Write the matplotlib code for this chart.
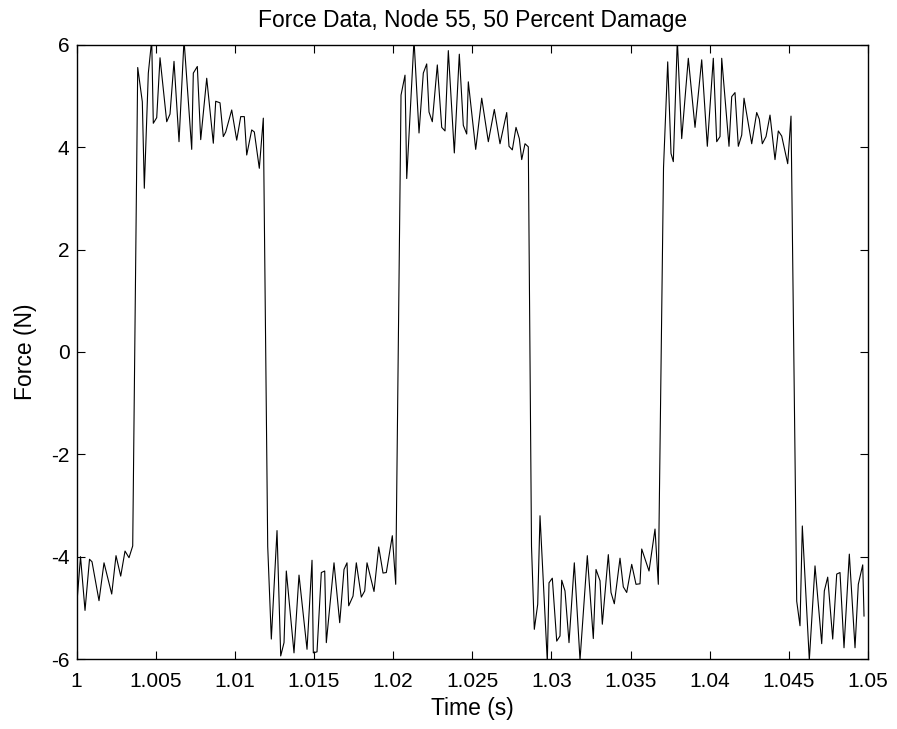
import matplotlib
matplotlib.use("Agg")
import matplotlib.pyplot as plt

plt.rcParams["font.family"] = ["Liberation Sans", "DejaVu Sans"]

# Sampled force signal: time (s) and force (N)
time_s = [
    1.000000, 1.000253, 1.000537, 1.000821, 1.000979, 1.001421, 1.001737,
    1.002224, 1.002495, 1.002792, 1.003064, 1.003316, 1.003550,
    1.003866, 1.004157, 1.004283, 1.004536, 1.004750, 1.004851, 1.005066,
    1.005275, 1.005698, 1.005906, 1.006159, 1.006475, 1.006791, 1.007277,
    1.007378, 1.007631, 1.007846, 1.008225, 1.008642, 1.008793, 1.009065,
    1.009273, 1.009425, 1.009804, 1.010120, 1.010373, 1.010600, 1.010752,
    1.011067, 1.011232, 1.011547, 1.011800, 1.012078,
    1.012306, 1.012666, 1.012899, 1.013108, 1.013253, 1.013739, 1.014055,
    1.014561, 1.014877, 1.014959, 1.015192, 1.015464, 1.015679, 1.015780,
    1.016266, 1.016626, 1.016898, 1.017087, 1.017195, 1.017467, 1.017675,
    1.017991, 1.018205, 1.018351, 1.018793, 1.019090, 1.019362, 1.019570,
    1.019949, 1.020164,
    1.020499, 1.020751, 1.020859, 1.021320, 1.021636, 1.021907, 1.022122,
    1.022267, 1.022476, 1.022792, 1.023070, 1.023278, 1.023487, 1.023866,
    1.024181, 1.024434, 1.024649, 1.024750, 1.025217, 1.025597, 1.026014,
    1.026392, 1.026752, 1.027176, 1.027321, 1.027530, 1.027763, 1.027972,
    1.028123, 1.028332, 1.028540, 1.028742,
    1.028919, 1.029134, 1.029279, 1.029740, 1.029848, 1.030056, 1.030334,
    1.030542, 1.030650, 1.030858, 1.031111, 1.031446, 1.031806, 1.032267,
    1.032646, 1.032817, 1.033070, 1.033215, 1.033594, 1.033764, 1.033973,
    1.034333, 1.034541, 1.034756, 1.035072, 1.035343, 1.035596, 1.035704,
    1.036165, 1.036544, 1.036752, 1.037081,
    1.037346, 1.037555, 1.037700, 1.037953, 1.038230, 1.038647, 1.039071,
    1.039494, 1.039848, 1.040226, 1.040441, 1.040650, 1.040757, 1.041218,
    1.041389, 1.041597, 1.041806, 1.042021, 1.042166, 1.042652, 1.042968,
    1.043132, 1.043322, 1.043556, 1.043808, 1.044124, 1.044333, 1.044547,
    1.044926, 1.045135,
    1.045495, 1.045703, 1.045849, 1.046291, 1.046651, 1.047074, 1.047239,
    1.047453, 1.047769, 1.048022, 1.048230, 1.048483, 1.048818, 1.049178,
    1.049386, 1.049665, 1.049747,
]

force_n = [
    -5.00, -4.00, -5.05, -4.05, -4.10, -4.86, -4.12,
    -4.73, -3.98, -4.38, -3.89, -4.02, -3.79,
    5.56, 4.89, 3.20, 5.45, 6.10, 4.47, 4.58,
    5.75, 4.50, 4.65, 5.68, 4.11, 6.10, 3.96,
    5.45, 5.58, 4.15, 5.35, 4.08, 4.90, 4.87,
    4.21, 4.30, 4.73, 4.14, 4.60, 4.60, 3.85,
    4.34, 4.30, 3.59, 4.57, -3.80,
    -5.61, -3.49, -5.94, -5.68, -4.28, -5.88, -4.36,
    -5.81, -4.07, -5.88, -5.86, -4.31, -4.28, -5.68,
    -4.12, -5.29, -4.25, -4.12, -4.96, -4.77, -4.12,
    -4.79, -4.67, -4.12, -4.68, -3.81, -4.32, -4.31,
    -3.59, -4.54,
    5.02, 5.41, 3.39, 6.10, 4.28, 5.45, 5.63,
    4.69, 4.50, 5.61, 4.39, 4.32, 5.89, 3.89,
    5.82, 4.43, 4.26, 5.28, 3.96, 4.96, 4.11,
    4.74, 4.07, 4.68, 4.02, 3.95, 4.39, 4.17,
    3.76, 4.07, 4.01, -3.80,
    -5.42, -4.93, -3.20, -6.05, -4.51, -4.42, -5.65,
    -5.55, -4.46, -4.67, -5.68, -4.12, -6.02, -3.98,
    -5.60, -4.25, -4.47, -5.32, -3.96, -4.70, -4.92,
    -4.03, -4.59, -4.70, -4.15, -4.54, -4.53, -3.85,
    -4.28, -3.46, -4.54, 3.60,
    5.67, 3.88, 3.72, 6.10, 4.17, 5.74, 4.39,
    5.71, 4.02, 5.74, 4.11, 4.21, 5.74, 4.02,
    4.99, 5.07, 4.02, 4.24, 4.96, 4.07, 4.68,
    4.55, 4.07, 4.21, 4.63, 3.76, 4.32, 4.22,
    3.68, 4.61,
    -4.87, -5.35, -3.40, -6.02, -4.18, -5.70, -4.67,
    -4.40, -5.61, -4.34, -4.31, -5.78, -3.95, -5.78,
    -4.54, -4.16, -5.16,
]

x_ticks = [1.0, 1.005, 1.01, 1.015, 1.02, 1.025, 1.03, 1.035, 1.04, 1.045, 1.05]
x_tick_labels = ["1", "1.005", "1.01", "1.015", "1.02", "1.025", "1.03",
                 "1.035", "1.04", "1.045", "1.05"]
y_ticks = [-6, -4, -2, 0, 2, 4, 6]
y_tick_labels = ["-6", "-4", "-2", "0", "2", "4", "6"]

fig = plt.figure(figsize=(8.97, 7.29), dpi=100)
ax = fig.add_axes([0.0853, 0.0960, 0.8824, 0.8423])

ax.plot(time_s, force_n, color="black", linewidth=0.8)

ax.set_xlim(1.0, 1.05)
ax.set_ylim(-6, 6)
ax.set_xticks(x_ticks)
ax.set_xticklabels(x_tick_labels)
ax.set_yticks(y_ticks)
ax.set_yticklabels(y_tick_labels)

ax.tick_params(direction="in", top=True, right=True, length=6, width=0.8,
               labelsize=15, pad=9)
ax.tick_params(axis="y", pad=5)
for spine in ax.spines.values():
    spine.set_linewidth(1.0)

ax.set_title("Force Data, Node 55, 50 Percent Damage", fontsize=16.5, pad=13)
ax.set_xlabel("Time (s)", fontsize=16.5, labelpad=5)
ax.set_ylabel("Force (N)", fontsize=16.5, labelpad=10)

fig.savefig("out.png", dpi=100)
